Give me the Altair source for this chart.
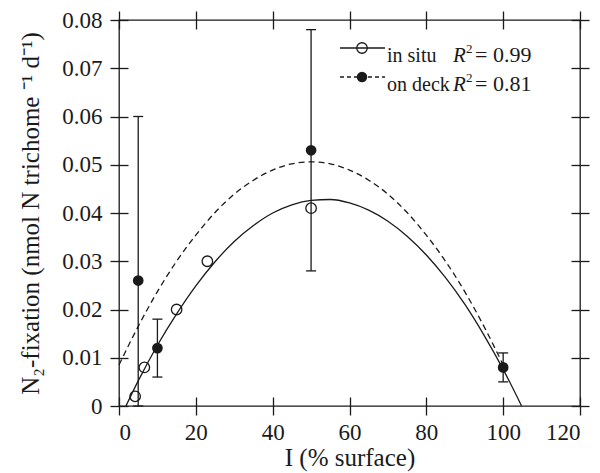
import altair as alt
import pandas as pd

# ---- data ----
situ_x = [4.2, 6.6, 15, 23, 50]
situ_y = [0.002, 0.008, 0.020, 0.030, 0.041]

deck_x = [5, 10, 50, 100]
deck_y = [0.026, 0.012, 0.053, 0.008]
deck_lo = [0.0, 0.006, 0.028, 0.005]
deck_hi = [0.060, 0.018, 0.078, 0.011]

fit_situ_x = [1.8, 5, 10, 15, 20, 25, 30, 35, 40, 45, 50, 55, 60, 65, 70, 75, 80, 85, 90, 95, 100, 104.8]
fit_situ_y = [0.0, 0.0052, 0.0126, 0.0191, 0.0249, 0.0299, 0.0341, 0.0374, 0.0400, 0.0417, 0.0426,
              0.0428, 0.0421, 0.0406, 0.0383, 0.0352, 0.0313, 0.0266, 0.0211, 0.0147, 0.0076, 0.0]

fit_deck_x = [0, 5, 10, 15, 20, 25, 30, 35, 40, 45, 50, 55, 60, 65, 70, 75, 80, 85, 90, 95, 100]
fit_deck_y = [0.0085, 0.0165, 0.0237, 0.0300, 0.0354, 0.0401, 0.0439, 0.0468, 0.0489, 0.0502, 0.0506,
              0.0502, 0.0489, 0.0468, 0.0439, 0.0401, 0.0354, 0.0300, 0.0237, 0.0165, 0.0085]

x_ticks = [0, 20, 40, 60, 80, 100, 120]
y_ticks = [0, 0.01, 0.02, 0.03, 0.04, 0.05, 0.06, 0.07, 0.08]

legend_names = ["in situ", "on deck"]
legend_values = ["= 0.99", "= 0.81"]

x_title = "I (% surface)"
y_title = "N\u2082-fixation (nmol N trichome \u207b\u00b9 d\u207b\u00b9)"

# ---- style ----
INK = "#1a1a1a"
FONT = "Liberation Serif"
FS = 23
TFS = 25
LW = 1.3

df_situ = pd.DataFrame({"x": situ_x, "y": situ_y})
df_deck = pd.DataFrame({"x": deck_x, "y": deck_y, "lo": deck_lo, "hi": deck_hi})
df_fit_situ = pd.DataFrame({"x": fit_situ_x, "y": fit_situ_y})
df_fit_deck = pd.DataFrame({"x": fit_deck_x, "y": fit_deck_y})
one = pd.DataFrame({"k": [0]})

xscale = alt.Scale(domain=[0, 120], nice=False, zero=False)
yscale = alt.Scale(domain=[0, 0.08], nice=False, zero=False)

common_axis = dict(domain=False, grid=False, offset=-9, tickSize=18, tickColor=INK,
                   tickWidth=LW, labelFont=FONT, labelFontSize=FS, labelColor=INK,
                   titleFont=FONT, titleFontSize=TFS, titleColor=INK, titleFontWeight="normal")

x_bottom = alt.Axis(orient="bottom", values=x_ticks, labelPadding=6, titlePadding=1,
                    title=x_title, **common_axis)
x_top = alt.Axis(orient="top", values=x_ticks, labels=False, title=None, **common_axis)
y_left = alt.Axis(orient="left", values=y_ticks, labelPadding=8, titlePadding=18,
                  labelExpr="datum.value == 0 ? '0' : format(datum.value, '.2f')",
                  title=y_title, **common_axis)
y_right = alt.Axis(orient="right", values=y_ticks, labels=False, title=None, **common_axis)

solid = alt.Chart(df_fit_situ).mark_line(color=INK, strokeWidth=LW, interpolate="monotone").encode(
    x=alt.X("x:Q", scale=xscale, axis=x_bottom),
    y=alt.Y("y:Q", scale=yscale, axis=y_left),
)
dashed = alt.Chart(df_fit_deck).mark_line(color=INK, strokeWidth=LW, strokeDash=[6, 4],
                                           interpolate="monotone").encode(
    x=alt.X("x:Q", scale=xscale, axis=x_top),
    y=alt.Y("y:Q", scale=yscale, axis=y_right),
)

err = alt.Chart(df_deck).mark_rule(color=INK, strokeWidth=LW).encode(
    x=alt.X("x:Q", scale=xscale, axis=None),
    y=alt.Y("lo:Q", scale=yscale, axis=None),
    y2="hi:Q",
)
cap_hi = alt.Chart(df_deck).mark_point(shape="stroke", size=100, strokeWidth=LW, color=INK, opacity=1).encode(
    x=alt.X("x:Q", scale=xscale, axis=None),
    y=alt.Y("hi:Q", scale=yscale, axis=None),
)
cap_lo = alt.Chart(df_deck).mark_point(shape="stroke", size=100, strokeWidth=LW, color=INK, opacity=1).encode(
    x=alt.X("x:Q", scale=xscale, axis=None),
    y=alt.Y("lo:Q", scale=yscale, axis=None),
)
open_pts = alt.Chart(df_situ).mark_point(shape="circle", filled=False, size=110, strokeWidth=LW,
                                         color=INK, opacity=1).encode(
    x=alt.X("x:Q", scale=xscale, axis=None),
    y=alt.Y("y:Q", scale=yscale, axis=None),
)
filled_pts = alt.Chart(df_deck).mark_point(shape="circle", filled=True, size=115, color=INK, opacity=1).encode(
    x=alt.X("x:Q", scale=xscale, axis=None),
    y=alt.Y("y:Q", scale=yscale, axis=None),
)

# ---- legend (inside, top right); positions relative to plot area ----
LX0, LX1, LMX, LTX = 221, 266, 243, 268
LY = [28, 57]
leg = []
for i, (name, val) in enumerate(zip(legend_names, legend_values)):
    y = LY[i]
    rule_kw = dict(color=INK, strokeWidth=LW)
    if i == 1:
        rule_kw["strokeDash"] = [4, 3]
    leg.append(alt.Chart(one).mark_rule(**rule_kw).encode(
        x=alt.value(LX0), x2=alt.value(LX1), y=alt.value(y)))
    leg.append(alt.Chart(one).mark_point(shape="circle", filled=(i == 1), size=110, strokeWidth=LW,
                                         color=INK, opacity=1).encode(
        x=alt.value(LMX), y=alt.value(y)))
    leg.append(alt.Chart(one).mark_text(text=name, align="left", baseline="alphabetic", font=FONT,
                                        fontSize=20, color=INK).encode(
        x=alt.value(LTX), y=alt.value(y + 14)))
    leg.append(alt.Chart(one).mark_text(text="R", align="left", baseline="alphabetic", font=FONT,
                                        fontSize=21, fontStyle="italic", color=INK).encode(
        x=alt.value(LTX + 66), y=alt.value(y + 14)))
    leg.append(alt.Chart(one).mark_text(text="2", align="left", baseline="alphabetic", font=FONT,
                                        fontSize=13, color=INK).encode(
        x=alt.value(LTX + 79), y=alt.value(y + 5)))
    leg.append(alt.Chart(one).mark_text(text=val, align="left", baseline="alphabetic", font=FONT,
                                        fontSize=22, color=INK).encode(
        x=alt.value(LTX + 88), y=alt.value(y + 14)))

chart = alt.layer(solid, dashed, err, cap_hi, cap_lo, open_pts, filled_pts, *leg).resolve_axis(
    x="independent", y="independent"
).properties(
    width=461, height=386,
    autosize=alt.AutoSizeParams(type="none"),
    padding={"left": 119, "top": 20, "right": 20, "bottom": 67},
    background="white",
).configure_view(stroke=INK, strokeWidth=LW)

chart.save("out.html", embed_options={"renderer": "svg", "actions": False})
